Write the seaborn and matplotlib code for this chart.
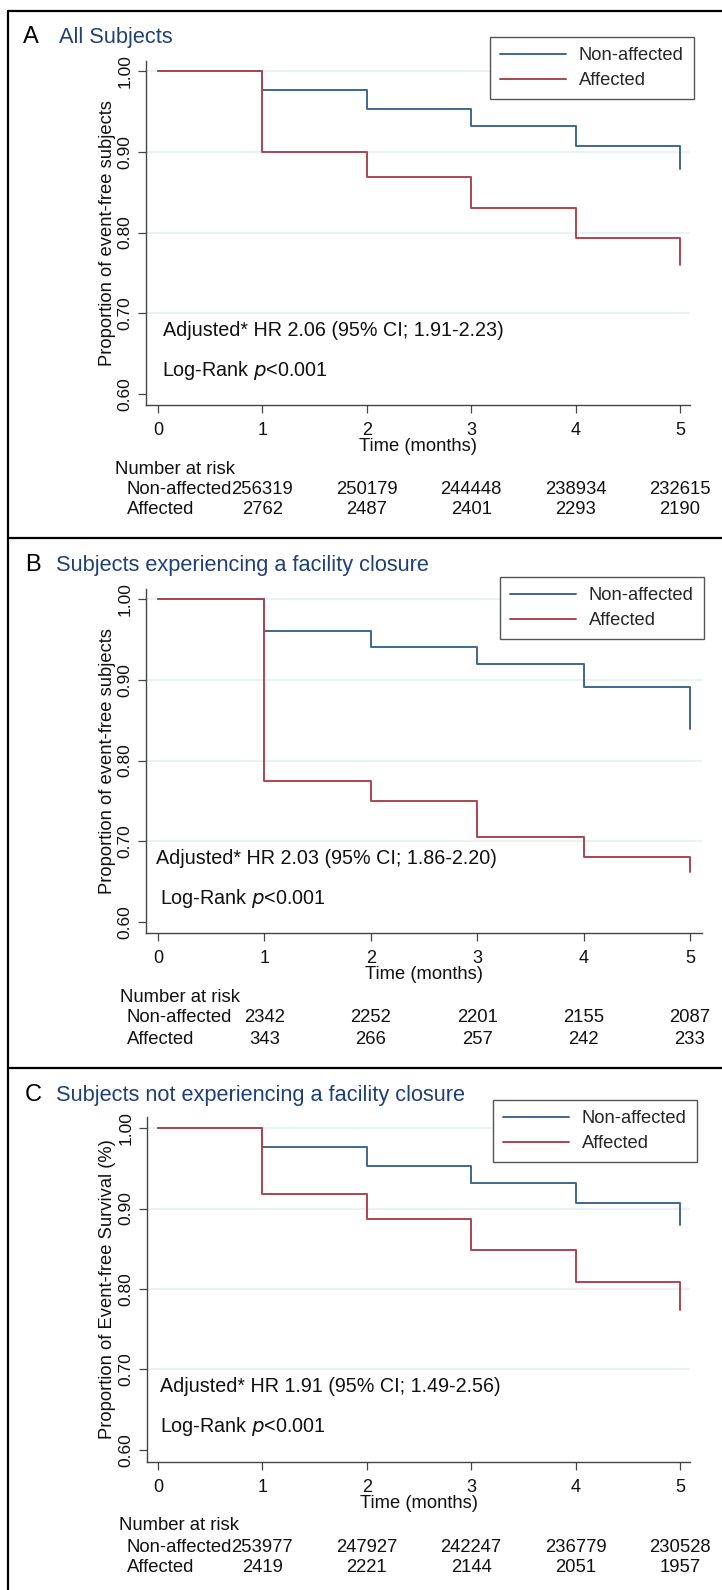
import matplotlib
matplotlib.use('Agg')
import matplotlib.pyplot as plt
import matplotlib.transforms as mtransforms
from matplotlib.lines import Line2D
import pandas as pd
import seaborn as sns

time = [0, 1, 2, 3, 4, 5]
risk_time = [1, 2, 3, 4, 5]
groups = ['Non-affected', 'Affected']

a_non = [1.0, 0.976, 0.953, 0.932, 0.907, 0.879]
a_aff = [1.0, 0.900, 0.869, 0.830, 0.793, 0.760]
b_non = [1.0, 0.961, 0.940, 0.920, 0.891, 0.839]
b_aff = [1.0, 0.775, 0.750, 0.705, 0.680, 0.662]
c_non = [1.0, 0.976, 0.953, 0.932, 0.907, 0.879]
c_aff = [1.0, 0.918, 0.887, 0.848, 0.809, 0.774]

a_risk_non = [256319, 250179, 244448, 238934, 232615]
a_risk_aff = [2762, 2487, 2401, 2293, 2190]
b_risk_non = [2342, 2252, 2201, 2155, 2087]
b_risk_aff = [343, 266, 257, 242, 233]
c_risk_non = [253977, 247927, 242247, 236779, 230528]
c_risk_aff = [2419, 2221, 2144, 2051, 1957]

letters = ['A', 'B', 'C']
titles = ['All Subjects',
          'Subjects experiencing a facility closure',
          'Subjects not experiencing a facility closure']
ylabels = ['Proportion of event-free subjects',
           'Proportion of event-free subjects',
           'Proportion of Event-free Survival (%)']
hr_texts = ['Adjusted* HR 2.06 (95% CI; 1.91-2.23)',
            'Adjusted* HR 2.03 (95% CI; 1.86-2.20)',
            'Adjusted* HR 1.91 (95% CI; 1.49-2.56)']
yticks = [0.6, 0.7, 0.8, 0.9, 1.0]
xticks = [0, 1, 2, 3, 4, 5]

sns.set_style('ticks')
plt.rcParams['font.family'] = ['Liberation Sans', 'DejaVu Sans']

W, H = 722, 1590
fig = plt.figure(figsize=(W / 100, H / 100), dpi=100)

blue = '#3f6791'
red = '#ab4550'
navy = '#1f3f78'
pal = {'Non-affected': blue, 'Affected': red}


def fx(x):
    return x / W


def fy(y):
    return 1 - y / H


# panel layout in pixels: axes box, xlim, ylim, title y, legend box, text rows
panels = [
    dict(box=(146, 61, 690, 405), xlim=(-0.115, 5.096), ylim=(0.5864, 1.0124),
         title_y=37, leg=(490, 37), hr=(163, 331), lr=(162, 371),
         nar=(115, 470), rows=(490, 510), non=a_non, aff=a_aff,
         rn=a_risk_non, ra=a_risk_aff),
    dict(box=(146, 589, 702, 933), xlim=(-0.113, 5.113), ylim=(0.5864, 1.0124),
         title_y=565, leg=(500, 577), hr=(156, 859), lr=(160, 899),
         nar=(120, 998), rows=(1018, 1039), non=b_non, aff=b_aff,
         rn=b_risk_non, ra=b_risk_aff),
    dict(box=(147, 1117, 690, 1462), xlim=(-0.105, 5.096), ylim=(0.585, 1.0137),
         title_y=1095, leg=(493, 1100), hr=(160, 1387), lr=(160, 1427),
         nar=(119, 1526), rows=(1547, 1567), non=c_non, aff=c_aff,
         rn=c_risk_non, ra=c_risk_aff),
]

for i, p in enumerate(panels):
    x0, y0, x1, y1 = p['box']
    ax = fig.add_axes([fx(x0), fy(y1), (x1 - x0) / W, (y1 - y0) / H])

    df = pd.DataFrame({
        'time': time * 2,
        'surv': p['non'] + p['aff'],
        'group': [groups[0]] * len(time) + [groups[1]] * len(time),
    })
    sns.lineplot(data=df, x='time', y='surv', hue='group', hue_order=groups,
                 palette=pal, drawstyle='steps-post', linewidth=1.4,
                 legend=False, ax=ax, zorder=3)

    ax.set_xlim(*p['xlim'])
    ax.set_ylim(*p['ylim'])
    ax.set_xticks(xticks)
    ax.set_yticks(yticks)
    ax.set_yticklabels(['%.2f' % v for v in yticks], rotation=90, va='center')
    ax.yaxis.grid(True, color='#e8f0f1', linewidth=1.2)
    ax.yaxis.get_gridlines()[0].set_visible(False)
    ax.set_axisbelow(True)
    for s in ['top', 'right']:
        ax.spines[s].set_visible(False)
    for s in ['left', 'bottom']:
        ax.spines[s].set_color('#444444')
        ax.spines[s].set_linewidth(1.0)
    ax.tick_params(axis='both', direction='out', length=5.5, width=0.9,
                   color='#444444', labelcolor='#111111')
    ax.tick_params(axis='x', pad=7, labelsize=13)
    ax.tick_params(axis='y', pad=4, labelsize=12.5)
    ax.set_xlabel('Time (months)', fontsize=13.2, color='#111111')
    ax.set_ylabel(ylabels[i], fontsize=13.2, color='#111111')
    ax.xaxis.set_label_coords(
        0.5, fy(y1 + 33),
        transform=mtransforms.blended_transform_factory(ax.transAxes, fig.transFigure))
    ax.yaxis.set_label_coords(
        fx(116), 0.5,
        transform=mtransforms.blended_transform_factory(fig.transFigure, ax.transAxes))

    # legend
    handles = [Line2D([], [], color=blue, lw=1.4), Line2D([], [], color=red, lw=1.4)]
    lx, ly = p['leg']
    leg = ax.legend(handles, groups, loc='upper left',
                    bbox_to_anchor=(fx(lx), fy(ly)), bbox_transform=fig.transFigure,
                    borderaxespad=0, fontsize=13.2, handlelength=3.6,
                    handletextpad=0.7, labelspacing=0.45, borderpad=0.55,
                    fancybox=False, framealpha=1)
    leg.get_frame().set_edgecolor('#555555')
    leg.get_frame().set_linewidth(1.0)

    # titles
    fig.text(fx(23 if i == 0 else 25), fy(p['title_y']), letters[i],
             fontsize=17, va='center', ha='left', color='black')
    fig.text(fx(59 if i == 0 else 56), fy(p['title_y']), titles[i],
             fontsize=15.7, va='center', ha='left', color=navy)

    # annotations
    fig.text(fx(p['hr'][0]), fy(p['hr'][1]), hr_texts[i], fontsize=14.2,
             va='center', ha='left', color='#111111')
    fig.text(fx(p['lr'][0]), fy(p['lr'][1]), 'Log-Rank $\\it{p}$<0.001',
             fontsize=14.2, va='center', ha='left', color='#111111')

    # number at risk table
    fig.text(fx(p['nar'][0]), fy(p['nar'][1]), 'Number at risk', fontsize=13.3,
             va='center', ha='left', color='#111111')
    trans = mtransforms.blended_transform_factory(ax.transData, fig.transFigure)
    for row_y, label, vals in zip(p['rows'], groups, [p['rn'], p['ra']]):
        fig.text(fx(127), fy(row_y), label, fontsize=13.3, va='center',
                 ha='left', color='#111111')
        for t, v in zip(risk_time, vals):
            ax.text(t, fy(row_y), str(v), transform=trans, fontsize=13.3,
                    va='center', ha='center', color='#111111', clip_on=False)

# panel frame lines
for yy in [11, 538, 1068]:
    fig.add_artist(Line2D([fx(8), 1.0], [fy(yy), fy(yy)], color='black',
                          linewidth=1.6, transform=fig.transFigure))
fig.add_artist(Line2D([fx(8), fx(8)], [fy(11), 0.0], color='black',
                      linewidth=1.6, transform=fig.transFigure))

fig.savefig('out.png', dpi=100, facecolor='white')
